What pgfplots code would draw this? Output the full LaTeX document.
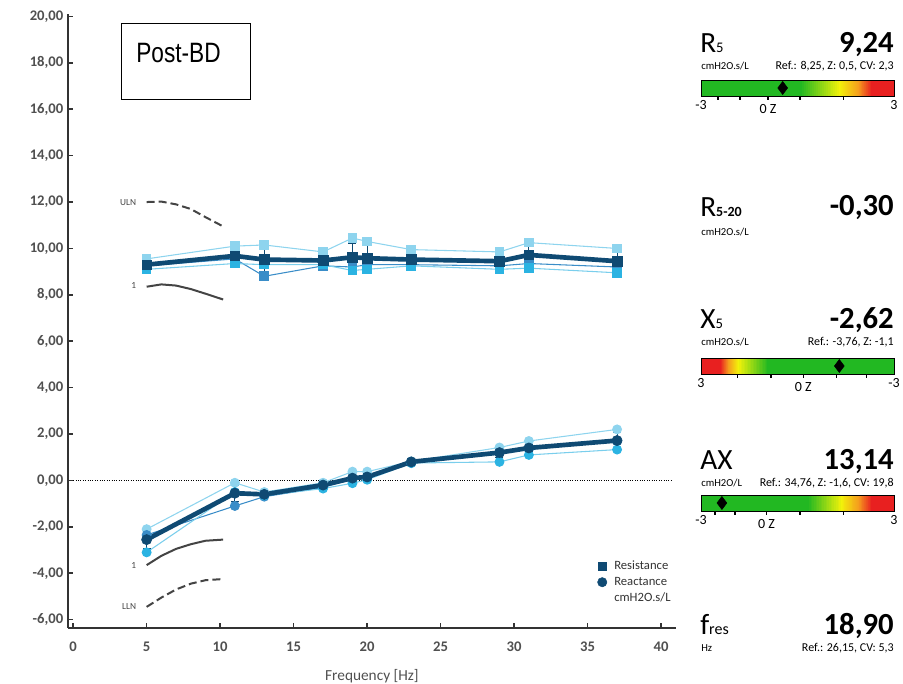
\documentclass[border=0pt]{standalone}
\usepackage{pgfplots}
\pgfplotsset{compat=1.18}
\usepackage{fontspec}
\setmainfont{Carlito}
\newfontfamily\arialn[FakeStretch=0.81]{Liberation Sans}
\definecolor{navy}{HTML}{0F4A73}
\definecolor{trA}{HTML}{8ED4EE}
\definecolor{trB}{HTML}{3A8DC8}
\definecolor{trC}{HTML}{2BB3E2}
\definecolor{axgray}{HTML}{333333}
\definecolor{lblgray}{HTML}{505050}
\definecolor{normgray}{HTML}{444444}
\definecolor{gGreen}{HTML}{22B822}
\definecolor{gYellow}{HTML}{F2F20A}
\definecolor{gOrange}{HTML}{F59A1E}
\definecolor{gRed}{HTML}{E82020}
\pgfplotsset{
  gauge/.style={anchor=south west, scale only axis, width=144.75pt, height=12pt,
    xmin=-3, xmax=3, ymin=0, ymax=1, axis on top,
    axis line style={black, line width=0.6pt}, ytick=\empty,
    xtick pos=bottom, tick align=outside, major tick length=3pt,
    tick style={black, line width=1pt},
    xticklabel style={font=\fontsize{10.5}{10.5}\selectfont, text=black},
    extra x tick style={major tick length=0pt},
    clip=false},
  trial/.style={forget plot, line width=0.8pt},
}
% gradient segment from #1 to #2 (axis x), colour #3 -> #4
\newcommand{\gradseg}[4]{%
  \pgfplotsinvokeforeach{0,5,...,95}{%
    \fill[#4!##1!#3] (axis cs:{#1+(#2-#1)*##1/100},0) rectangle (axis cs:{#1+(#2-#1)*(##1+5.5)/100},1);
  }%
}
\begin{document}
\begin{tikzpicture}[x=0.75pt, y=0.75pt]
\useasboundingbox (0,0) rectangle (903,684);

\begin{axis}[
  at={(51pt,42pt)}, anchor=south west, scale only axis,
  width=455.9pt, height=460.4pt,
  xmin=-0.35, xmax=41, ymin=-6.36, ymax=20.1,
  axis lines*=left,
  axis line style={axgray, line width=1.6pt, -},
  tick align=inside, major tick length=4pt,
  tick style={axgray, line width=1.2pt},
  xtick={0,5,...,40}, ytick={-6,-4,...,20},
  /pgf/number format/assume math mode=true,
  yticklabel style={/pgf/number format/fixed, /pgf/number format/fixed zerofill,
    /pgf/number format/precision=2, /pgf/number format/use comma,
    font=\fontsize{11}{11}\selectfont\bfseries, text=lblgray},
  xticklabel style={font=\fontsize{11}{11}\selectfont\bfseries, text=lblgray, yshift=-7pt},
  xlabel={Frequency [Hz]},
  xlabel style={font=\fontsize{11.5}{12}\selectfont, text=lblgray, yshift=-6.5pt},
  clip=false,
  legend style={at={(axis cs:35.2,-3.35)}, anchor=north west, draw=none, fill=none,
    font=\fontsize{9.5}{9.5}\selectfont, text=axgray, row sep=0pt, inner sep=0pt,
    column sep=3.5pt},
  legend cell align=left,
]
% zero line
\addplot[forget plot, black, densely dotted, line width=0.8pt] coordinates {(0,0) (40.7,0)};

% reference curves
\addplot[forget plot, normgray, line width=1.5pt, dash pattern=on 6pt off 3pt] coordinates {(5,12.0) (6,12.02) (7,11.9) (8,11.7) (9,11.35) (10.2,10.95)};
\addplot[forget plot, normgray, line width=1.5pt] coordinates {(5,8.35) (6,8.45) (7,8.4) (8,8.25) (9,8.05) (10.2,7.8)};
\addplot[forget plot, normgray, line width=1.5pt] coordinates {(5,-3.65) (6,-3.25) (7,-2.95) (8,-2.75) (9,-2.6) (10.2,-2.55)};
\addplot[forget plot, normgray, line width=1.5pt, dash pattern=on 6pt off 3pt] coordinates {(5,-5.45) (6,-5.05) (7,-4.7) (8,-4.45) (9,-4.3) (10.2,-4.25)};
\node[anchor=east, font=\fontsize{7}{7}\selectfont, text=normgray] at (axis cs:4.6,12.0) {ULN};
\node[anchor=east, font=\fontsize{7}{7}\selectfont, text=normgray] at (axis cs:4.6,8.4) {1};
\node[anchor=east, font=\fontsize{7}{7}\selectfont, text=normgray] at (axis cs:4.6,-3.65) {1};
\node[anchor=east, font=\fontsize{7}{7}\selectfont, text=normgray] at (axis cs:4.6,-5.45) {LLN};

% resistance trials
\addplot[trial, trA, mark=square*, mark size=3.2pt, mark options={fill=trA, draw=trA}] coordinates {(5,9.55) (11,10.1) (13,10.15) (17,9.85) (19,10.45) (20,10.3) (23,9.95) (29,9.85) (31,10.25) (37,10.0)};
\addplot[trial, trB, mark=square*, mark size=3.2pt, mark options={fill=trB, draw=trB}] coordinates {(5,9.25) (11,9.55) (13,8.8) (17,9.25) (19,9.2) (20,9.3) (23,9.3) (29,9.25) (31,9.35) (37,9.2)};
\addplot[trial, trA!80!trC, mark=square*, mark size=3.2pt, mark options={fill=trC, draw=trC}] coordinates {(5,9.1) (11,9.35) (13,9.3) (17,9.3) (19,9.05) (20,9.1) (23,9.25) (29,9.1) (31,9.15) (37,8.95)};

% reactance trials
\addplot[trial, trA, mark=*, mark size=3.3pt, mark options={fill=trA, draw=trA}] coordinates {(5,-2.1) (11,-0.1) (13,-0.5) (17,-0.1) (19,0.38) (20,0.38) (23,0.82) (29,1.42) (31,1.7) (37,2.2)};
\addplot[trial, trB, mark=*, mark size=3.3pt, mark options={fill=trB, draw=trB}] coordinates {(5,-2.35) (11,-1.1) (13,-0.7) (17,-0.3) (19,0.05) (20,0.15) (23,0.75) (29,1.2) (31,1.35) (37,1.7)};
\addplot[trial, trA!80!trC, mark=*, mark size=3.3pt, mark options={fill=trC, draw=trC}] coordinates {(5,-3.1) (11,-0.5) (13,-0.65) (17,-0.35) (19,-0.12) (20,0.03) (23,0.75) (29,0.8) (31,1.1) (37,1.33)};

% main resistance
\addplot[forget plot, navy, line width=3.5pt, mark=square*, mark size=3.6pt, mark options={solid, line width=0.5pt, fill=navy},
  error bars/.cd, y dir=both, y explicit,
  error bar style={line width=0.8pt, navy},
  error mark options={rotate=90, mark size=3pt, line width=0.8pt, navy}]
  coordinates {(5,9.3) +- (0,0.3) (11,9.68) +- (0,0.35) (13,9.52) +- (0,0.6) (17,9.48) +- (0,0.3) (19,9.62) +- (0,0.6) (20,9.58) +- (0,0.55) (23,9.52) +- (0,0.3) (29,9.45) +- (0,0.3) (31,9.72) +- (0,0.45) (37,9.45) +- (0,0.45)};

% main reactance
\addplot[forget plot, navy, line width=3.5pt, mark=*, mark size=3.8pt, mark options={solid, line width=0.5pt, fill=navy},
  error bars/.cd, y dir=both, y explicit,
  error bar style={line width=0.8pt, navy},
  error mark options={rotate=90, mark size=3pt, line width=0.8pt, navy}]
  coordinates {(5,-2.55) +- (0,0.4) (11,-0.55) +- (0,0.35) (13,-0.6) +- (0,0.15) (17,-0.2) +- (0,0.15) (19,0.1) +- (0,0.2) (20,0.15) +- (0,0.2) (23,0.8) +- (0,0.05) (29,1.2) +- (0,0.2) (31,1.4) +- (0,0.25) (37,1.72) +- (0,0.35)};

\addlegendimage{only marks, mark=square*, mark size=3.2pt, navy}
\addlegendentry{Resistance}
\addlegendimage{only marks, mark=*, mark size=3.5pt, navy}
\addlegendentry{Reactance}
\addlegendimage{empty legend}
\addlegendentry{cmH2O.s/L}
\end{axis}

% Post-BD box
\draw[black, line width=0.75pt] (121,584) rectangle (250,660);
\node[anchor=west, inner sep=0pt, font=\arialn\fontsize{21}{21}\selectfont] at (136,631) {Post-BD};

% ---------- right panel ----------
% R5
\node[anchor=base west, inner sep=0pt] at (700,631) {\fontsize{22}{22}\selectfont R\fontsize{11}{11}\selectfont 5};
\node[anchor=base east, inner sep=0pt] at (894,631) {\fontsize{23}{23}\selectfont\bfseries 9,24};
\node[anchor=base west, inner sep=0pt] at (701,614) {\fontsize{8}{8}\selectfont cmH2O.s/L};
\node[anchor=base east, inner sep=0pt] at (894,614) {\fontsize{9}{9}\selectfont Ref.: 8,25, Z: 0,5, CV: 2,3};
\begin{axis}[gauge, at={(525.75pt,441pt)},
  xtick={-2.47,-1.79,-0.92,0.08,1.42}, xticklabels={,,0 Z,,},
  extra x ticks={-3,3}, extra x tick labels={-3,3}]
\fill[gGreen] (axis cs:-3,0) rectangle (axis cs:0.1,1);
\gradseg{0.08}{1.3}{gGreen}{gYellow}
\gradseg{1.3}{1.9}{gYellow}{gOrange}
\gradseg{1.9}{2.3}{gOrange}{gRed}
\fill[gRed] (axis cs:2.3,0) rectangle (axis cs:3,1);
\addplot[only marks, mark=diamond*, mark size=4.9pt, black] coordinates {(-0.46,0.5)};
\end{axis}

% R5-20
\node[anchor=base west, inner sep=0pt] at (700,467) {\fontsize{22}{22}\selectfont R\fontsize{10.5}{11}\selectfont\bfseries 5-20};
\node[anchor=base east, inner sep=0pt] at (894,468) {\fontsize{23}{23}\selectfont\bfseries -0,30};
\node[anchor=base west, inner sep=0pt] at (701,448) {\fontsize{8}{8}\selectfont cmH2O.s/L};

% X5
\node[anchor=base west, inner sep=0pt] at (700,355) {\fontsize{22}{22}\selectfont X\fontsize{11}{11}\selectfont 5};
\node[anchor=base east, inner sep=0pt] at (894,355) {\fontsize{23}{23}\selectfont\bfseries -2,62};
\node[anchor=base west, inner sep=0pt] at (701,338) {\fontsize{8}{8}\selectfont cmH2O.s/L};
\node[anchor=base east, inner sep=0pt] at (894,338) {\fontsize{9}{9}\selectfont Ref.: -3,76, Z: -1,1};
\begin{axis}[gauge, at={(525.75pt,232.5pt)},
  xtick={-1.87,-0.82,0.18,1.22,2.15}, xticklabels={,,0 Z,,},
  extra x ticks={-3,3}, extra x tick labels={3,-3}]
\fill[gRed] (axis cs:-3,0) rectangle (axis cs:-2.38,1);
\gradseg{-2.4}{-2.15}{gRed}{gOrange}
\gradseg{-2.15}{-1.85}{gOrange}{gYellow}
\gradseg{-1.85}{-0.92}{gYellow}{gGreen}
\fill[gGreen] (axis cs:-0.94,0) rectangle (axis cs:3,1);
\addplot[only marks, mark=diamond*, mark size=4.9pt, black] coordinates {(1.30,0.5)};
\end{axis}

% AX
\node[anchor=base west, inner sep=0pt] at (700,214) {\fontsize{22}{22}\selectfont AX};
\node[anchor=base east, inner sep=0pt] at (894,214) {\fontsize{23}{23}\selectfont\bfseries 13,14};
\node[anchor=base west, inner sep=0pt] at (701,197) {\fontsize{8}{8}\selectfont cmH2O/L};
\node[anchor=base east, inner sep=0pt] at (894,197) {\fontsize{9}{9}\selectfont Ref.: 34,76, Z: -1,6, CV: 19,8};
\begin{axis}[gauge, at={(525.75pt,129.75pt)},
  xtick={-2.56,-1.94,-0.96,0.08,1.42}, xticklabels={,,0 Z,,},
  extra x ticks={-3,3}, extra x tick labels={-3,3}]
\fill[gGreen] (axis cs:-3,0) rectangle (axis cs:0.32,1);
\gradseg{0.3}{1.35}{gGreen}{gYellow}
\gradseg{1.35}{1.9}{gYellow}{gOrange}
\gradseg{1.9}{2.3}{gOrange}{gRed}
\fill[gRed] (axis cs:2.3,0) rectangle (axis cs:3,1);
\addplot[only marks, mark=diamond*, mark size=4.9pt, black] coordinates {(-2.35,0.5)};
\end{axis}

% fres
\node[anchor=base west, inner sep=0pt] at (700,49) {\fontsize{22}{22}\selectfont f\fontsize{12}{12}\selectfont res};
\node[anchor=base east, inner sep=0pt] at (894,49) {\fontsize{23}{23}\selectfont\bfseries 18,90};
\node[anchor=base west, inner sep=0pt] at (701,32) {\fontsize{8}{8}\selectfont Hz};
\node[anchor=base east, inner sep=0pt] at (894,32) {\fontsize{9}{9}\selectfont Ref.: 26,15, CV: 5,3};
\end{tikzpicture}
\end{document}
